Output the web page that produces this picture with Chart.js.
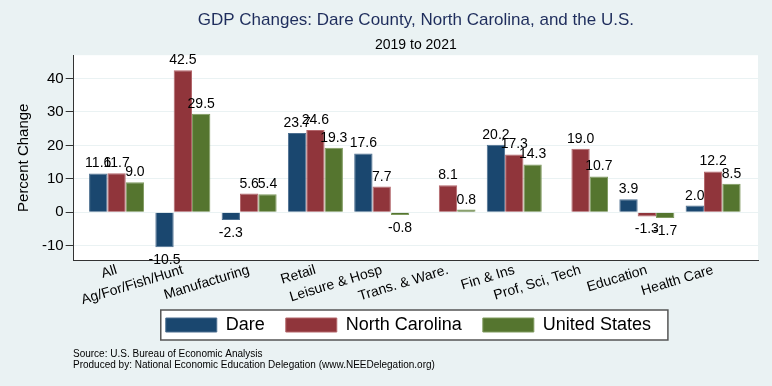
<!DOCTYPE html>
<html>
<head>
<meta charset="utf-8">
<title>GDP Changes: Dare County</title>
<script src="https://cdn.jsdelivr.net/npm/chart.js@4.4.1/dist/chart.umd.min.js"></script>
<style>
  body { margin: 0; background: #eaf2f3; }
  canvas { display: block; }
</style>
</head>
<body>
<canvas id="gdpChart" width="772" height="386"></canvas>
<script>
// Sectors along the x axis
const sectors = ["All", "Ag/For/Fish/Hunt", "Manufacturing", "Retail", "Leisure & Hosp",
  "Trans. & Ware.", "Fin & Ins", "Prof, Sci, Tech", "Education", "Health Care"];

// Percent change 2019 to 2021 (null = not reported)
const dare = [11.6, -10.5, -2.3, 23.7, 17.6, null, 20.2, null, 3.9, 2.0];
const northCarolina = [11.7, 42.5, 5.6, 24.6, 7.7, 8.1, 17.3, 19.0, -1.3, 12.2];
const unitedStates = [9.0, 29.5, 5.4, 19.3, -0.8, 0.8, 14.3, 10.7, -1.7, 8.5];

const yTicks = [-10, 0, 10, 20, 30, 40];

const bgColor = "#eaf2f3";

function toPoints(values) {
  return values.map((v, i) => ({x: i, y: v}));
}

// Page background, white plot region and legend frame
const backdrop = {
  id: "backdrop",
  beforeDraw(chart) {
    const {ctx, chartArea} = chart;
    ctx.save();
    ctx.fillStyle = bgColor;
    ctx.fillRect(0, 0, chart.width, chart.height);
    ctx.fillStyle = "#ffffff";
    ctx.fillRect(chartArea.left, chartArea.top, chartArea.right - chartArea.left, chartArea.bottom - chartArea.top);

    const boxes = chart.legend.legendHitBoxes;
    if (boxes && boxes.length) {
      const first = boxes[0];
      const last = boxes[boxes.length - 1];
      const left = first.left - 5;
      const right = last.left + last.width + 2;
      const mid = first.top + first.height / 2;
      ctx.fillStyle = "#ffffff";
      ctx.fillRect(left, mid - 15, right - left, 30);
      ctx.strokeStyle = "#555555";
      ctx.lineWidth = 1.5;
      ctx.strokeRect(left, mid - 15, right - left, 30);
    }
    ctx.restore();
  }
};

// Numbers above / below each bar
const barValues = {
  id: "barValues",
  afterDatasetsDraw(chart) {
    const {ctx} = chart;
    ctx.save();
    ctx.font = "14px 'Liberation Sans', Arial, sans-serif";
    ctx.fillStyle = "#000000";
    ctx.textAlign = "center";
    chart.data.datasets.forEach((ds, di) => {
      const meta = chart.getDatasetMeta(di);
      meta.data.forEach((bar, i) => {
        const v = ds.data[i].y;
        if (v === null) return;
        if (v >= 0) {
          ctx.textBaseline = "alphabetic";
          ctx.fillText(v.toFixed(1), bar.x, bar.y - 6);
        } else {
          ctx.textBaseline = "top";
          ctx.fillText(v.toFixed(1), bar.x, bar.y + 6);
        }
      });
    });
    ctx.restore();
  }
};

// Source notes
const notes = {
  id: "notes",
  afterDraw(chart) {
    const {ctx} = chart;
    ctx.save();
    ctx.font = "10px 'Liberation Sans', Arial, sans-serif";
    ctx.fillStyle = "#000000";
    ctx.textAlign = "left";
    ctx.textBaseline = "alphabetic";
    ctx.fillText("Source: U.S. Bureau of Economic Analysis", 73, 357);
    ctx.fillText("Produced by: National Economic Education Delegation (www.NEEDelegation.org)", 73, 368);
    ctx.restore();
  }
};

Chart.defaults.font.family = "'Liberation Sans', Arial, sans-serif";
Chart.defaults.color = "#000000";

const barShape = {borderWidth: 1, categoryPercentage: 0.83, barPercentage: 1};

new Chart(document.getElementById("gdpChart"), {
  type: "bar",
  data: {
    datasets: [
      {label: "Dare", data: toPoints(dare), backgroundColor: "#1a476f", borderColor: "#4d6f90", ...barShape},
      {label: "North Carolina", data: toPoints(northCarolina), backgroundColor: "#90353b", borderColor: "#b3666b", ...barShape},
      {label: "United States", data: toPoints(unitedStates), backgroundColor: "#55752f", borderColor: "#7f9a5f", ...barShape}
    ]
  },
  options: {
    responsive: false,
    animation: false,
    layout: {padding: {left: 11, right: 14, top: 0, bottom: 42}},
    scales: {
      x: {
        type: "linear",
        offset: false,
        min: -0.647,
        max: 9.677,
        grid: {display: false, drawTicks: false},
        border: {display: true, color: "#333333", width: 1},
        ticks: {
          stepSize: 1,
          includeBounds: false,
          autoSkip: false,
          maxTicksLimit: 20,
          minRotation: 17,
          maxRotation: 17,
          padding: 2,
          font: {size: 14, lineHeight: 1.1},
          color: "#000000",
          callback: (value) => sectors[value] ?? ""
        }
      },
      y: {
        min: -14.4,
        max: 47,
        afterBuildTicks: (scale) => {
          scale.ticks = yTicks.map(v => ({value: v}));
        },
        grid: {color: bgColor, lineWidth: 1, tickLength: 8, tickColor: "#333333"},
        border: {display: true, color: "#333333", width: 1},
        ticks: {padding: 2, font: {size: 15}, color: "#000000"},
        title: {display: true, text: "Percent Change", font: {size: 15}, color: "#000000", padding: {top: 4, bottom: 7}}
      }
    },
    plugins: {
      title: {
        display: true,
        fullSize: false,
        text: "GDP Changes: Dare County, North Carolina, and the U.S.",
        color: "#1e2d5c",
        font: {size: 17, weight: "normal"},
        padding: {top: 10, bottom: 6}
      },
      subtitle: {
        display: true,
        fullSize: false,
        text: "2019 to 2021",
        color: "#000000",
        font: {size: 14},
        padding: {top: 0, bottom: 2}
      },
      legend: {
        position: "bottom",
        fullSize: false,
        labels: {
          boxWidth: 51,
          boxHeight: 14,
          padding: 6,
          font: {size: 18},
          color: "#000000",
          generateLabels: (chart) => Chart.defaults.plugins.legend.labels.generateLabels(chart)
            .map(item => Object.assign(item, {text: item.text + "   "}))
        }
      },
      tooltip: {enabled: false}
    }
  },
  plugins: [backdrop, barValues, notes]
});
</script>
</body>
</html>
